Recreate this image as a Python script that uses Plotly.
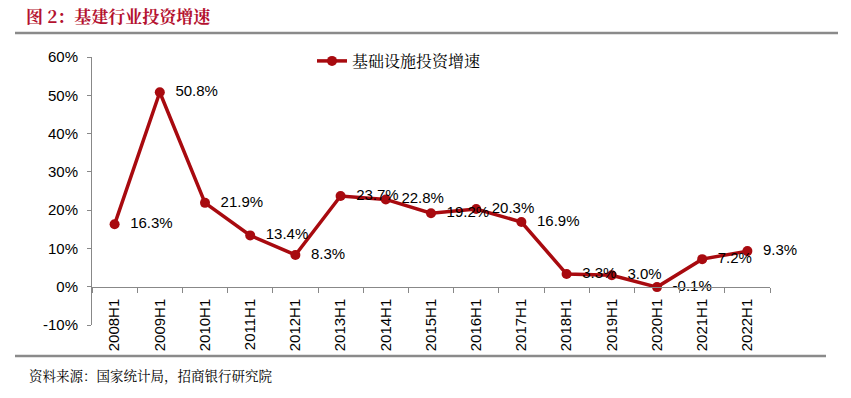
import plotly.graph_objects as go

categories = ["2008H1", "2009H1", "2010H1", "2011H1", "2012H1", "2013H1", "2014H1",
              "2015H1", "2016H1", "2017H1", "2018H1", "2019H1", "2020H1", "2021H1", "2022H1"]
values = [16.3, 50.8, 21.9, 13.4, 8.3, 23.7, 22.8, 19.2, 20.3, 16.9, 3.3, 3.0, -0.1, 7.2, 9.3]
series_name = "基础设施投资增速"
y_ticks = [-10, 0, 10, 20, 30, 40, 50, 60]

W, H = 851, 398
L, R, T, B = 92, 770, 57, 325
YMIN, YMAX = -10, 60

def px_x(px):
    return (px - L) / (R - L)

def px_y(py):
    return (B - py) / (B - T)

line_color = "#A80A0F"
title_color = "#B4112F"

fig = go.Figure()
fig.add_trace(go.Scatter(
    x=categories, y=values, mode="lines+markers+text", name=series_name,
    line=dict(color=line_color, width=3.5),
    marker=dict(color=line_color, size=10),
    text=["  %.1f%%" % v for v in values],
    textposition="middle right",
    textfont=dict(family="Liberation Sans, Arial", size=15, color="#000000"),
    cliponaxis=False,
))

fig.update_layout(
    width=W, height=H,
    margin=dict(l=L, r=W - R, t=T, b=H - B),
    paper_bgcolor="white", plot_bgcolor="white",
    showlegend=True,
    legend=dict(x=px_x(312), y=px_y(44), xanchor="left", yanchor="top",
                bgcolor="rgba(0,0,0,0)",
                font=dict(family="Noto Serif CJK SC, Noto Sans CJK SC", size=16, color="#000")),
    xaxis=dict(
        type="category", range=[-0.5, len(categories) - 0.5],
        anchor="free", position=(0 - YMIN) / (YMAX - YMIN),
        showline=True, linecolor="#888888", linewidth=1,
        ticks="outside", tickson="boundaries", ticklen=5, tickcolor="#888888",
        tickangle=-90, ticklabelstandoff=5,
        tickfont=dict(family="Liberation Sans, Arial", size=15, color="#000"),
        showgrid=False, zeroline=False,
    ),
    yaxis=dict(
        range=[YMIN, YMAX], tickvals=y_ticks,
        ticktext=["%d%%" % v for v in y_ticks],
        showline=True, linecolor="#888888", linewidth=1,
        ticks="outside", ticklen=4, tickcolor="#888888", ticklabelstandoff=6,
        tickfont=dict(family="Liberation Sans, Arial", size=15, color="#000"),
        showgrid=False, zeroline=False,
    ),
)

fig.add_annotation(
    xref="paper", yref="paper", x=px_x(24), y=px_y(15), xanchor="left", yanchor="middle",
    text="<b>图 2：基建行业投资增速</b>", showarrow=False,
    font=dict(family="Noto Serif CJK SC, Noto Sans CJK SC", size=17, color=title_color),
)
fig.add_annotation(
    xref="paper", yref="paper", x=px_x(27), y=px_y(375), xanchor="left", yanchor="middle",
    text="资料来源：国家统计局，招商银行研究院", showarrow=False,
    font=dict(family="Noto Serif CJK SC, Noto Sans CJK SC", size=13.5, color="#000"),
)
fig.add_shape(type="line", xref="paper", yref="paper",
              x0=px_x(15), x1=px_x(838), y0=px_y(33), y1=px_y(33),
              line=dict(color="#8a8a8a", width=2.5))
fig.add_shape(type="line", xref="paper", yref="paper",
              x0=px_x(15), x1=px_x(826), y0=px_y(356), y1=px_y(356),
              line=dict(color="#8a8a8a", width=2.5))

fig.write_html("out.html", config={"displayModeBar": False},
               post_script="document.body.style.margin='0';")
